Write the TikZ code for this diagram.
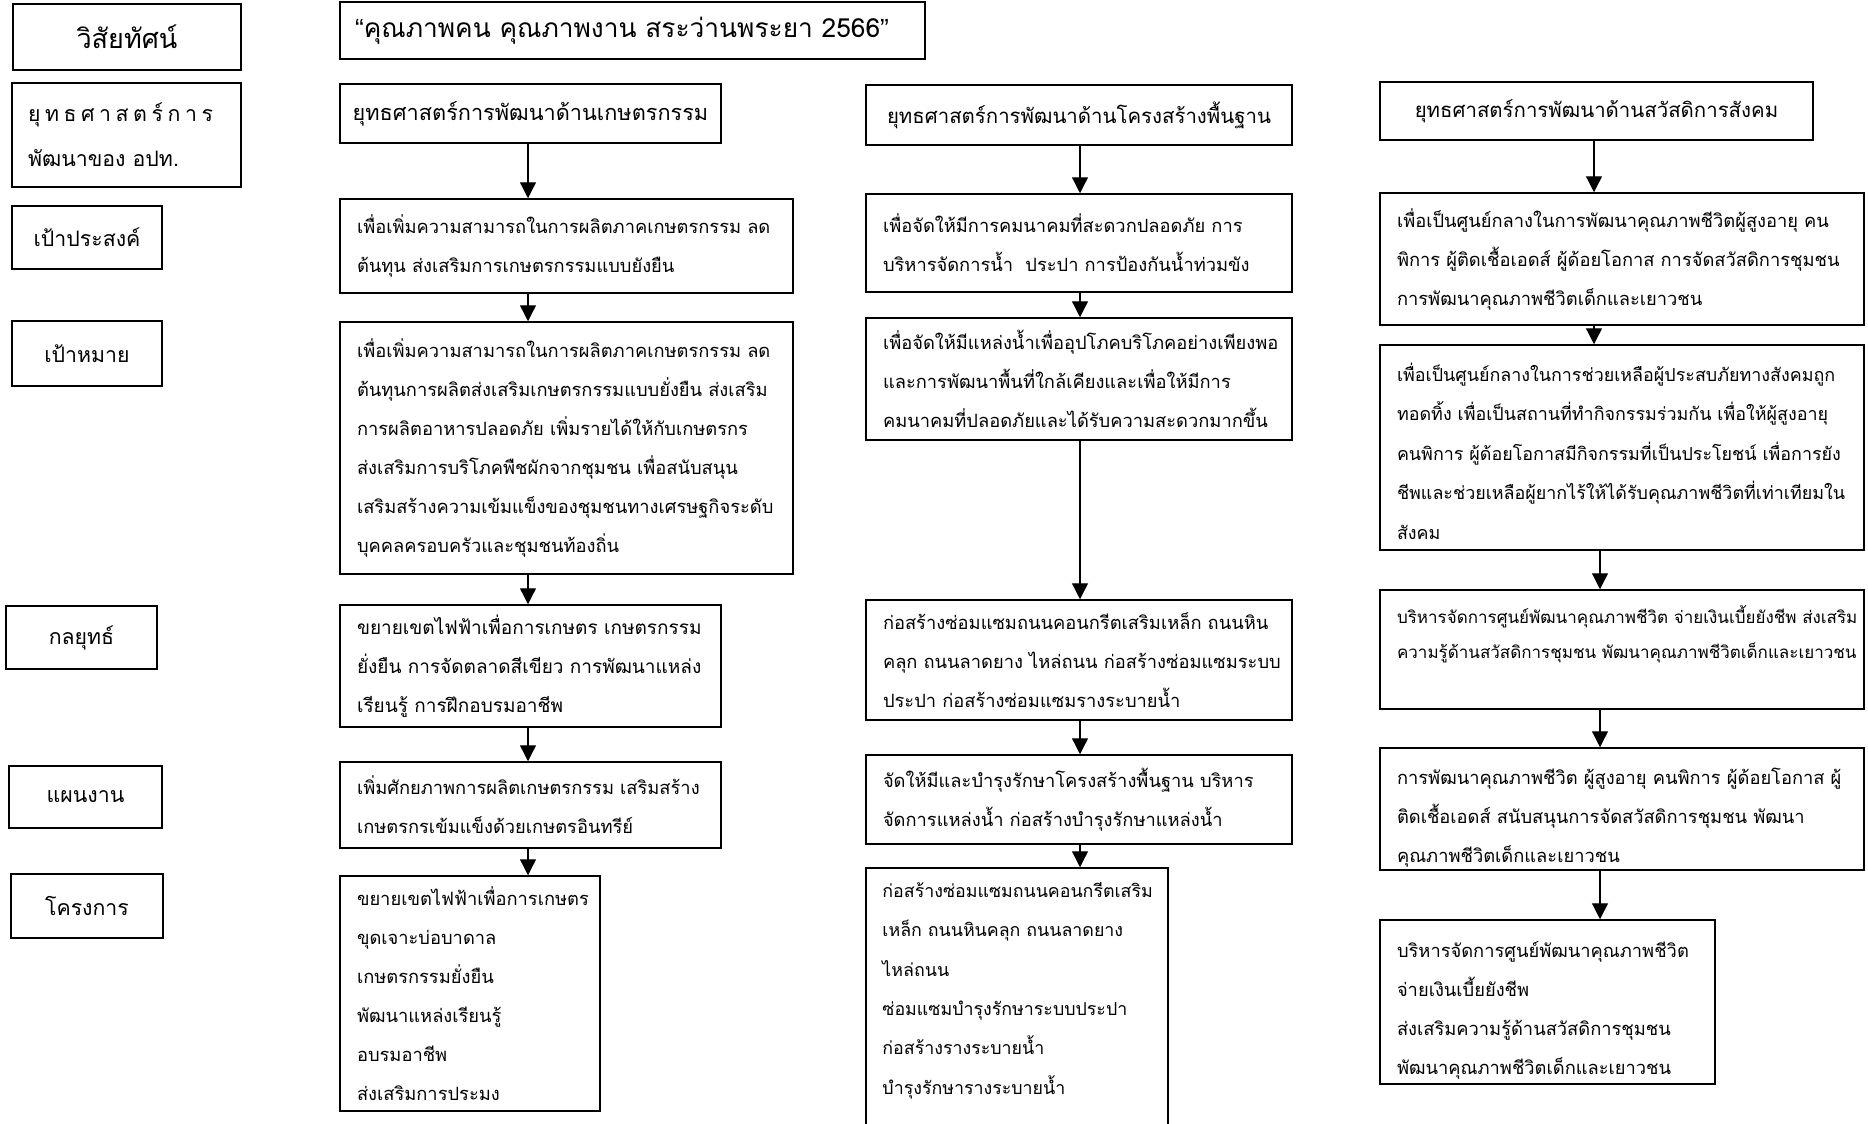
\documentclass[tikz,border=0pt]{standalone}
\usepackage{fontspec}
\setmainfont[Script=Thai]{Loma}
\newfontfamily\qfont{Liberation Sans}
\usetikzlibrary{arrows.meta}
\newcommand\bodyfont{\fontsize{18.3}{39}\selectfont}
\newcommand\fs[2]{\fontsize{#1}{#2}\selectfont}
\newcommand\up[1]{\rule{0pt}{#1}}
\begin{document}
\begin{tikzpicture}[x=1pt,y=-1pt,
  box/.style={draw, line width=1.5pt, inner xsep=17pt, inner ysep=0pt, align=left, font=\bodyfont},
  lbl/.style={draw, line width=1.5pt, inner sep=0pt, align=center, font=\fs{21.3}{30}},
  hdr/.style={draw, line width=1.5pt, inner sep=0pt, align=center, font=\fs{20.4}{30}},
  arr/.style={line width=1.3pt, -{Triangle[width=16pt,length=16pt]}}]
\useasboundingbox (0,0) rectangle (1868,1124);
% left labels
\node[lbl, minimum width=228pt, minimum height=66pt, font=\fs{27}{30}] (L1) at (127,37) {วิสัยทัศน์};
\node[box, text width=197pt, inner xsep=16pt, minimum height=104pt, font=\fs{21.3}{45}] (L2) at (126.5,135)
  {\makebox[185pt][s]{ยุ\hfill ท\hfill ธ\hfill ศ\hfill า\hfill ส\hfill ต\hfill ร์\hfill ก\hfill า\hfill ร}\\ พัฒนาของ~อปท.};
\node[lbl, minimum width=150pt, minimum height=63pt] (L3) at (87,237.5) {เป้าประสงค์};
\node[lbl, minimum width=150pt, minimum height=65pt] (L4) at (87,353.5) {เป้าหมาย};
\node[lbl, minimum width=151pt, minimum height=63pt] (L5) at (81.5,637.5) {กลยุทธ์};
\node[lbl, minimum width=153pt, minimum height=62pt] (L6) at (85.5,797) {แผนงาน};
\node[lbl, minimum width=152pt, minimum height=64pt] (L7) at (87,906) {โครงการ};
% title
\node[box, text width=555pt, inner xsep=15pt, minimum height=57pt, font=\fs{26.3}{34}] (T0) at (632.5,30.5)
  {{\qfont “}คุณภาพคน~คุณภาพงาน~สระว่านพระยา~2566{\qfont ”}};
% headers
\node[hdr, minimum width=381pt, minimum height=59pt, font=\fs{21.7}{30}] (S1) at (530.5,113.5) {ยุทธศาสตร์การพัฒนาด้านเกษตรกรรม};
\node[hdr, minimum width=426pt, minimum height=60pt] (S2) at (1079,115) {ยุทธศาสตร์การพัฒนาด้านโครงสร้างพื้นฐาน};
\node[hdr, minimum width=433pt, minimum height=58pt] (S3) at (1596.5,111) {ยุทธศาสตร์การพัฒนาด้านสวัสดิการสังคม};
% column 1
\node[box, text width=419pt, minimum height=94pt] (G1) at (566.5,246)
  {เพื่อเพิ่มความสามารถในการผลิตภาคเกษตรกรรม~ลด\\
   ต้นทุน~ส่งเสริมการเกษตรกรรมแบบยังยืน};
\node[box, text width=419pt, minimum height=252pt] (T1) at (566.5,448)
  {เพื่อเพิ่มความสามารถในการผลิตภาคเกษตรกรรม~ลด\\
   ต้นทุนการผลิตส่งเสริมเกษตรกรรมแบบยั่งยืน~ส่งเสริม\\
   การผลิตอาหารปลอดภัย~เพิ่มรายได้ให้กับเกษตรกร\\
   ส่งเสริมการบริโภคพืชผักจากชุมชน~เพื่อสนับสนุน\\
   เสริมสร้างความเข้มแข็งของชุมชนทางเศรษฐกิจระดับ\\
   บุคคลครอบครัวและชุมชนท้องถิ่น};
\node[box, text width=347pt, minimum height=122pt, font=\fs{19}{39}] (K1) at (530.5,666)
  {ขยายเขตไฟฟ้าเพื่อการเกษตร~เกษตรกรรม\\
   ยั่งยืน~การจัดตลาดสีเขียว~การพัฒนาแหล่ง\\
   เรียนรู้~การฝึกอบรมอาชีพ};
\node[box, text width=347pt, minimum height=86pt] (P1) at (530.5,805)
  {เพิ่มศักยภาพการผลิตเกษตรกรรม~เสริมสร้าง\\
   เกษตรกรเข้มแข็งด้วยเกษตรอินทรีย์};
\node[box, text width=226pt, minimum height=235pt] (J1) at (470,993.5)
  {ขยายเขตไฟฟ้าเพื่อการเกษตร\\
   ขุดเจาะบ่อบาดาล\\
   เกษตรกรรมยั่งยืน\\
   พัฒนาแหล่งเรียนรู้\\
   อบรมอาชีพ\\
   ส่งเสริมการประมง};
% column 2
\node[box, text width=392pt, minimum height=98pt] (G2) at (1079,243)
  {เพื่อจัดให้มีการคมนาคมที่สะดวกปลอดภัย~การ\\
   บริหารจัดการน้ำ~~ประปา~การป้องกันน้ำท่วมขัง};
\node[box, text width=392pt, minimum height=122pt] (T2) at (1079,379)
  {เพื่อจัดให้มีแหล่งน้ำเพื่ออุปโภคบริโภคอย่างเพียงพอ\\
   และการพัฒนาพื้นที่ใกล้เคียงและเพื่อให้มีการ\\
   คมนาคมที่ปลอดภัยและได้รับความสะดวกมากขึ้น};
\node[box, text width=392pt, minimum height=120pt] (K2) at (1079,660)
  {ก่อสร้างซ่อมแซมถนนคอนกรีตเสริมเหล็ก~ถนนหิน\\
   คลุก~ถนนลาดยาง~ไหล่ถนน~ก่อสร้างซ่อมแซมระบบ\\
   ประปา~ก่อสร้างซ่อมแซมรางระบายน้ำ};
\node[box, text width=392pt, minimum height=89pt] (P2) at (1079,799.5)
  {จัดให้มีและบำรุงรักษาโครงสร้างพื้นฐาน~บริหาร\\
   จัดการแหล่งน้ำ~ก่อสร้างบำรุงรักษาแหล่งน้ำ};
\node[draw, line width=1.5pt, inner sep=0pt, minimum width=302pt, minimum height=272pt] (J2) at (1017,1004) {};
\node[anchor=north west, inner sep=0pt, text width=270pt, align=left, font=\fs{17.8}{39.3}] (J2t) at ([xshift=17pt,yshift=-15pt]J2.north west)
  {ก่อสร้างซ่อมแซมถนนคอนกรีตเสริม\\
   เหล็ก~ถนนหินคลุก~ถนนลาดยาง\\
   ไหล่ถนน\\
   ซ่อมแซมบำรุงรักษาระบบประปา\\
   ก่อสร้างรางระบายน้ำ\\
   บำรุงรักษารางระบายน้ำ};
% column 3
\node[box, text width=450pt, minimum height=132pt] (G3) at (1622,259)
  {เพื่อเป็นศูนย์กลางในการพัฒนาคุณภาพชีวิตผู้สูงอายุ~คน\\
   พิการ~ผู้ติดเชื้อเอดส์~ผู้ด้อยโอกาส~การจัดสวัสดิการชุมชน\\
   การพัฒนาคุณภาพชีวิตเด็กและเยาวชน};
\node[box, text width=450pt, minimum height=205pt, font=\fs{17.9}{39.5}] (T3) at (1622,447.5)
  {\up{26pt}เพื่อเป็นศูนย์กลางในการช่วยเหลือผู้ประสบภัยทางสังคมถูก\\
   ทอดทิ้ง~เพื่อเป็นสถานที่ทำกิจกรรมร่วมกัน~เพื่อให้ผู้สูงอายุ\\
   คนพิการ~ผู้ด้อยโอกาสมีกิจกรรมที่เป็นประโยชน์~เพื่อการยัง\\
   ชีพและช่วยเหลือผู้ยากไร้ให้ได้รับคุณภาพชีวิตที่เท่าเทียมใน\\
   สังคม};
\node[box, text width=450pt, minimum height=119pt, font=\fs{17}{35}] (K3) at (1622,649.5)
  {บริหารจัดการศูนย์พัฒนาคุณภาพชีวิต~จ่ายเงินเบี้ยยังชีพ~ส่งเสริม\\
   ความรู้ด้านสวัสดิการชุมชน~พัฒนาคุณภาพชีวิตเด็กและเยาวชน\\ ~};
\node[box, text width=450pt, minimum height=122pt] (P3) at (1622,809)
  {\up{33pt}\makebox[450pt][s]{การพัฒนาคุณภาพชีวิต ผู้สูงอายุ คนพิการ ผู้ด้อยโอกาส ผู้}\\
   \makebox[450pt][s]{ติดเชื้อเอดส์ สนับสนุนการจัดสวัสดิการชุมชน พัฒนา}\\
   คุณภาพชีวิตเด็กและเยาวชน};
\node[box, text width=301pt, minimum height=164pt] (J3) at (1547.5,1002)
  {\up{32pt}บริหารจัดการศูนย์พัฒนาคุณภาพชีวิต\\
   จ่ายเงินเบี้ยยังชีพ\\
   ส่งเสริมความรู้ด้านสวัสดิการชุมชน\\
   พัฒนาคุณภาพชีวิตเด็กและเยาวชน};
% arrow columns
\coordinate (a1) at (528,0);
\coordinate (a2) at (1080,0);
\coordinate (a3) at (1594,0);
\coordinate (a4) at (1600,0);
\draw[arr] (S1.south -| a1) -- (G1.north -| a1);
\draw[arr] (G1.south -| a1) -- (T1.north -| a1);
\draw[arr] (T1.south -| a1) -- (K1.north -| a1);
\draw[arr] (K1.south -| a1) -- (P1.north -| a1);
\draw[arr] (P1.south -| a1) -- (J1.north -| a1);
\draw[arr] (S2.south -| a2) -- (G2.north -| a2);
\draw[arr] (G2.south -| a2) -- (T2.north -| a2);
\draw[arr] (T2.south -| a2) -- (K2.north -| a2);
\draw[arr] (K2.south -| a2) -- (P2.north -| a2);
\draw[arr] (P2.south -| a2) -- (J2.north -| a2);
\draw[arr] (S3.south -| a3) -- (G3.north -| a3);
\draw[arr] (G3.south -| a3) -- (T3.north -| a3);
\draw[arr] (T3.south -| a4) -- (K3.north -| a4);
\draw[arr] (K3.south -| a4) -- (P3.north -| a4);
\draw[arr] (P3.south -| a4) -- (J3.north -| a4);
\end{tikzpicture}
\end{document}
